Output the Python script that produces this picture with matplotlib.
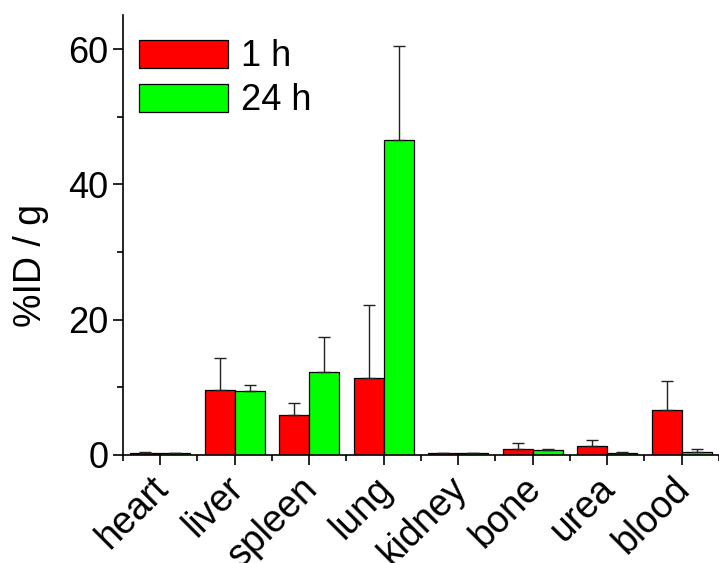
import numpy as np
import matplotlib
matplotlib.use('Agg')
import matplotlib.pyplot as plt
import matplotlib.transforms as mtransforms
from matplotlib.ticker import MultipleLocator

plt.rcParams['font.family'] = ['Liberation Sans', 'DejaVu Sans']

organs = ["heart", "liver", "spleen", "lung", "kidney", "bone", "urea", "blood"]
h1 = [0.35, 9.6, 5.9, 11.4, 0.25, 0.85, 1.3, 6.7]
h1_err = [0.1, 4.7, 1.8, 10.8, 0.1, 0.9, 0.9, 4.2]
h24 = [0.3, 9.5, 12.2, 46.5, 0.25, 0.7, 0.3, 0.5]
h24_err = [0.05, 0.85, 5.2, 13.9, 0.05, 0.1, 0.2, 0.3]

x = np.arange(len(organs))
w = 0.4

fig = plt.figure(figsize=(7.19, 5.63), dpi=100)
ax = fig.add_axes([0.171, 0.192, 0.829, 0.781])

ekw = dict(ecolor='#222222', elinewidth=1.0, capthick=1.0)
ax.bar(x - w/2, h1, w, color='#ff0000', edgecolor='black', linewidth=0.9, label='1 h',
       yerr=[np.zeros(len(h1)), h1_err], capsize=4.5, error_kw=ekw)
ax.bar(x + w/2, h24, w, color='#00ff00', edgecolor='black', linewidth=0.9, label='24 h',
       yerr=[np.zeros(len(h24)), h24_err], capsize=4.5, error_kw=ekw)

ax.set_xlim(-0.5, 7.5)
ax.set_ylim(0, 65)
ax.set_xticks(x)
ax.set_xticklabels(organs, rotation=45, ha='right', rotation_mode='anchor', fontsize=27)
ax.xaxis.set_minor_locator(MultipleLocator(1, offset=0.5))
ax.yaxis.set_major_locator(MultipleLocator(20))
ax.yaxis.set_minor_locator(MultipleLocator(10))
ax.tick_params(axis='y', labelsize=26)
ax.tick_params(which='major', direction='out', length=7, width=1.2)
ax.tick_params(which='minor', direction='out', length=4, width=1.2)
ax.tick_params(axis='x', which='major', pad=4)

# nudge the rotated labels left (after tick_params, which resets transforms)
shift = mtransforms.ScaledTranslation(-10/100, 0, fig.dpi_scale_trans)
for lab in ax.get_xticklabels():
    lab.set_transform(lab.get_transform() + shift)

for s in ['top', 'right']:
    ax.spines[s].set_visible(False)
for s in ['left', 'bottom']:
    ax.spines[s].set_linewidth(1.2)

ax.set_ylabel('%ID / g', fontsize=27)
ax.yaxis.set_label_coords(-0.124, 0.43)

ax.legend(loc='upper left', bbox_to_anchor=(0.003, 0.978), frameon=False, fontsize=26,
          handlelength=2.47, handleheight=0.83, labelspacing=0.25, handletextpad=0.35,
          borderaxespad=0)

fig.savefig('out.png', dpi=100)
